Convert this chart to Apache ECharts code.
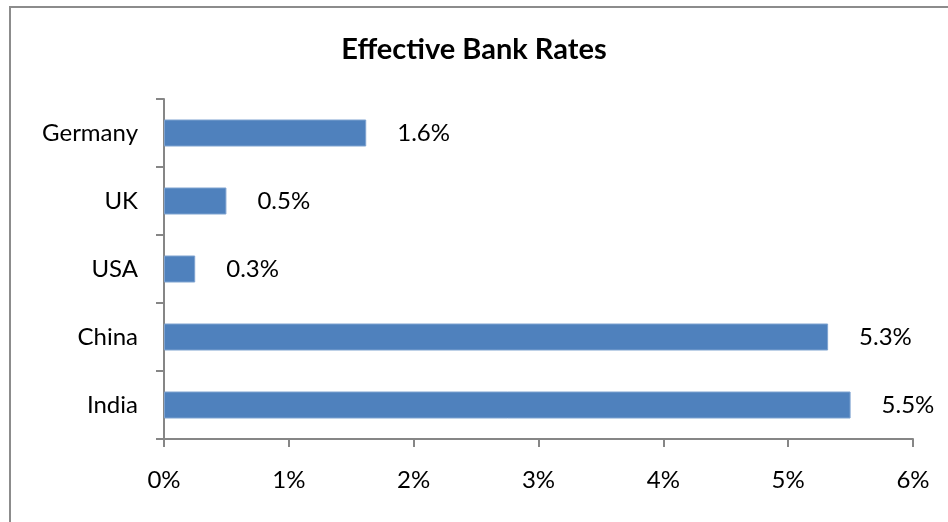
<!DOCTYPE html>
<html lang="en">
<head>
    <meta charset="UTF-8">
    <title>Effective Bank Rates</title>
    <script src="https://cdn.jsdelivr.net/npm/echarts@6/dist/echarts.min.js"></script>
    <style>
        html, body { margin: 0; padding: 0; background: #fff; }
        #main { width: 948px; height: 522px; }
    </style>
</head>
<body>
<div id="main"></div>
<script>
    // data (percent)
    var countries = ['India', 'China', 'USA', 'UK', 'Germany'];
    var rates = [5.5, 5.32, 0.25, 0.5, 1.62];
    var xTicks = [0, 1, 2, 3, 4, 5, 6];

    var fontName = 'Lato, "Open Sans", sans-serif';
    var axisGray = '#868686';

    var myChart = echarts.init(document.getElementById('main'));

    var option = {
        animation: false,
        backgroundColor: '#fff',
        title: {
            text: 'Effective Bank Rates',
            left: 'center',
            top: 30,
            textStyle: {
                fontFamily: fontName,
                fontWeight: 'bold',
                fontSize: 29,
                color: '#000'
            }
        },
        graphic: [{
            type: 'rect',
            shape: { x: 10, y: 7, width: 960, height: 540 },
            style: { fill: 'none', stroke: '#8c8c8c', lineWidth: 2 },
            silent: true
        }],
        grid: {
            left: 164,
            right: 35,
            top: 99,
            bottom: 83
        },
        xAxis: {
            type: 'value',
            min: xTicks[0],
            max: xTicks[xTicks.length - 1],
            interval: 1,
            splitLine: { show: false },
            axisLine: { show: true, lineStyle: { color: axisGray, width: 2 } },
            axisTick: { show: true, length: 8, lineStyle: { color: axisGray, width: 2 } },
            axisLabel: {
                margin: 29,
                fontFamily: fontName,
                fontSize: 24,
                color: '#000',
                formatter: function (v) { return v + '%'; }
            }
        },
        yAxis: {
            type: 'category',
            data: countries,
            axisLine: { show: true, lineStyle: { color: axisGray, width: 2 } },
            axisTick: { show: true, length: 8, lineStyle: { color: axisGray, width: 2 } },
            axisLabel: {
                margin: 26,
                fontFamily: fontName,
                fontSize: 24,
                color: '#000'
            }
        },
        series: [{
            type: 'bar',
            data: rates,
            barWidth: 27,
            itemStyle: {
                color: '#4f81bd',
                borderColor: '#7fa3d0',
                borderWidth: 1
            },
            label: {
                show: true,
                position: 'right',
                distance: 31,
                fontFamily: fontName,
                fontSize: 24,
                color: '#000',
                formatter: function (p) { return p.value.toFixed(1) + '%'; }
            }
        }]
    };

    myChart.setOption(option);
</script>
</body>
</html>
